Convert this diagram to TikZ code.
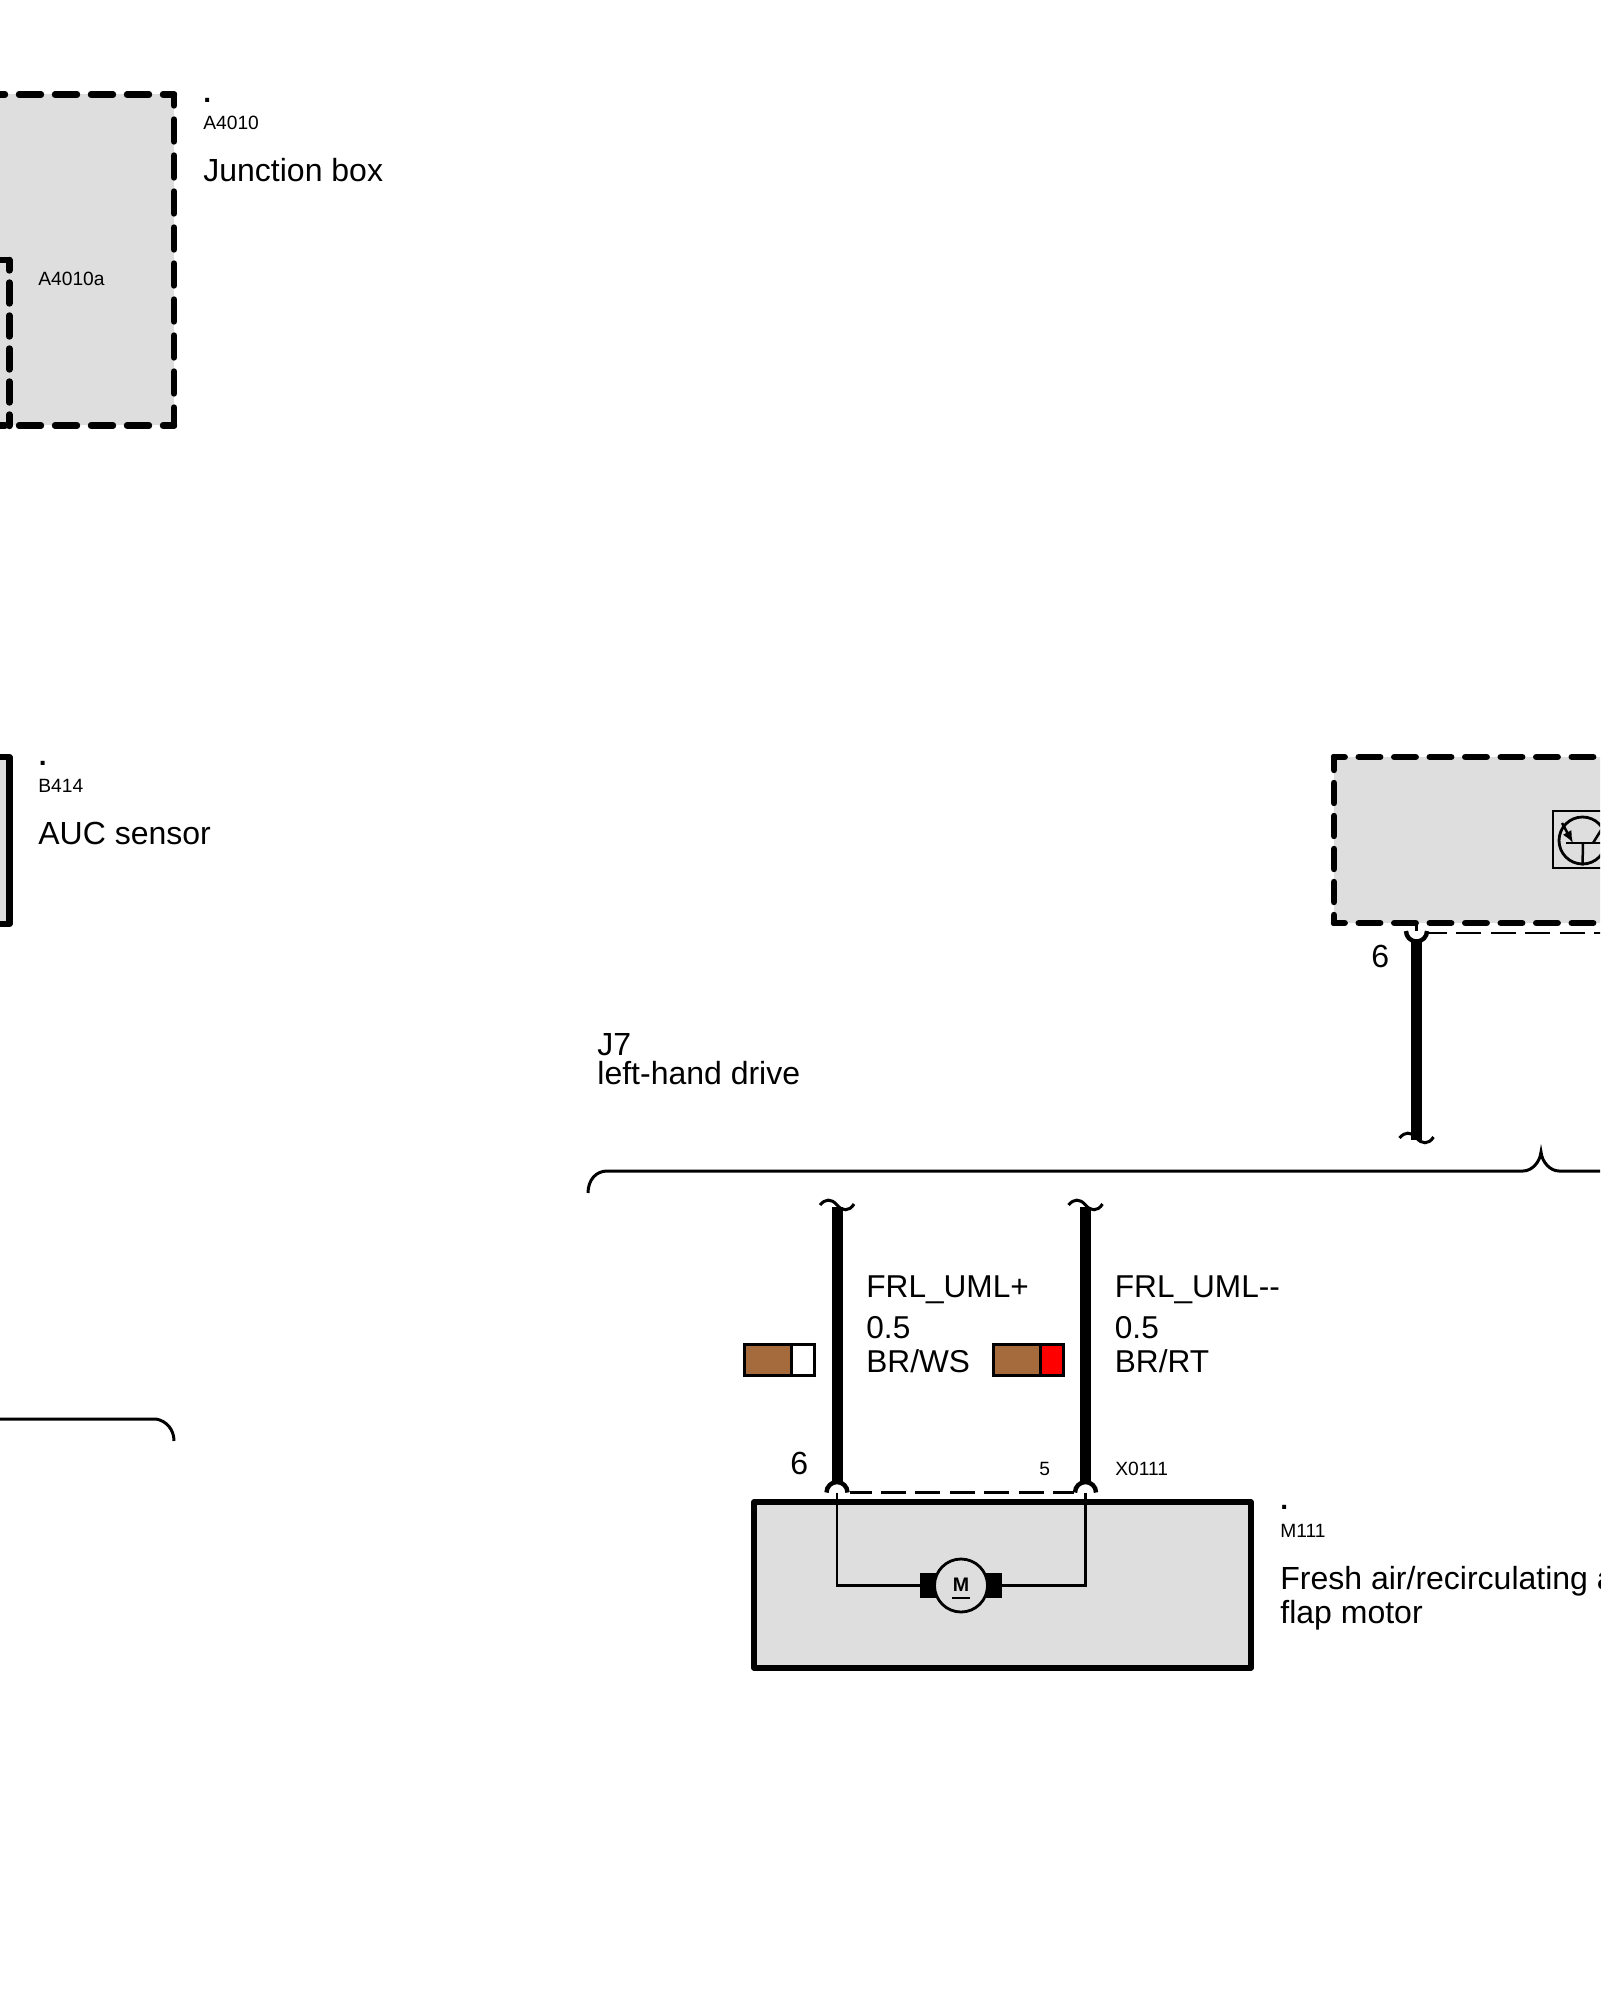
\documentclass[tikz,border=0pt]{standalone}
\usepackage{fontspec}
\setmainfont{Liberation Sans}
\usepackage{xcolor}
\usetikzlibrary{calc}
\usetikzlibrary{arrows.meta}
\definecolor{boxgrey}{HTML}{DEDEDE}
\definecolor{wirebrown}{HTML}{A56B3D}
\tikzset{
smalltext/.style={anchor=base west, inner sep=0, font=\fontsize{9.6}{11}\selectfont},
dottext/.style={anchor=base west, inner sep=0, font=\fontsize{14}{16}\bfseries\selectfont},
bigtext/.style={anchor=base west, inner sep=0, font=\fontsize{15.8}{18}\selectfont},
titletext/.style={anchor=base west, inner sep=0, font=\fontsize{16}{18}\selectfont},
thickline/.style={line width=3.2pt, line join=round},
thindash/.style={line width=1.2pt, dash pattern=on 12.5pt off 4.7pt},
thinwire/.style={line width=1.3pt},
fatwire/.style={line width=5.5pt},
squiggle/.style={line width=1.5pt},
}
% wire break, drawn round the point given
\newcommand{\wirebreak}[1]{
\draw[squiggle] ($(#1) + (-17, 0)$)
   .. controls ($(#1) + (-12, -6)$) and ($(#1) + (-6, -7)$)
   .. (#1)
   .. controls ($(#1) + (5, 6)$) and ($(#1) + (12, 7)$)
   .. ($(#1) + (17, -1)$);
}
\newcommand{\pinup}[1]{
\draw[line width=2.2pt] ($(#1) + (-10.5, 0)$) arc(180:360:10.5);
}
\newcommand{\pindown}[1]{
\draw[line width=2.2pt] ($(#1) + (-10.5, 0)$) arc(180:0:10.5);
}
% colour code of a wire
\newcommand{\colourcode}[2]{
\coordinate (code) at (#1);
\fill[wirebrown] (code) rectangle ($(code) + (47, 31)$);
\fill[#2] ($(code) + (47, 0)$) rectangle ($(code) + (70, 31)$);
\draw[line width=1.5pt] (code) rectangle ($(code) + (70, 31)$);
\draw[line width=1.5pt] ($(code) + (47, 0)$) -- ($(code) + (47, 31)$);
}

\begin{document}
\begin{tikzpicture}[x=0.5pt, y=-0.5pt]
\useasboundingbox (0, 0) rectangle (1600, 2000);
\clip (0, 0) rectangle (1600, 2000);
% junction box
\fill[boxgrey] (0, 94.5) rectangle (174, 425.5);
\draw[thickline, line cap=round, dash pattern=on 11pt off 7pt, dash phase=5.5pt] (174, 94.5) -- (-10, 94.5);
\draw[thickline, line cap=round, dash pattern=on 11pt off 7pt, dash phase=5.5pt] (174, 94.5) -- (174, 425.5);
\draw[thickline, line cap=round, dash pattern=on 11pt off 7pt, dash phase=5.5pt] (174, 425.5) -- (-10, 425.5);
\draw[thickline, line cap=round, dash pattern=on 10.5pt off 6pt, dash phase=5.25pt] (9.3, 260) -- (-10, 260);
\draw[thickline, line cap=round, dash pattern=on 10.5pt off 6pt, dash phase=5.25pt] (9.3, 260) -- (9.3, 426);
\node[dottext] (dotA) at (203, 102.5) {.};
\node[smalltext] (nameA) at (203, 130) {A4010};
\node[titletext] (titleA) at (203, 182) {Junction box};
\node[smalltext] (nameAa) at (38, 286) {A4010a};
% sensor
\draw[thickline, fill=boxgrey] (-10, 757) rectangle (9.3, 924);
\node[dottext] (dotB) at (38.6, 765) {.};
\node[smalltext] (nameB) at (38, 792.5) {B414};
\node[titletext] (titleB) at (38, 844) {AUC sensor};
% brackets
\coordinate (leftend) at (-10, 1419);
\coordinate (leftbend) at (156, 1419);
\coordinate (leftfoot) at (174, 1441);
\draw[line width=1.5pt] (leftend) -- (leftbend) .. controls (167, 1421) and (174, 1430) .. (leftfoot);
\coordinate (bracefoot) at (588, 1193);
\coordinate (bracebend) at (607, 1171);
\coordinate (bumpleft) at (1523, 1171);
\coordinate (bumptop) at (1541, 1152);
\coordinate (bumpright) at (1559, 1171);
\coordinate (braceend) at (1610, 1171);
\draw[line width=1.5pt] (bracefoot) .. controls (588, 1180) and (596, 1171) .. (bracebend) -- (bumpleft)
   .. controls (1532, 1171) and (1540, 1162) .. (bumptop)
   .. controls (1542, 1162) and (1550, 1171) .. (bumpright) -- (braceend);
\node[titletext] (jsection) at (597, 1055) {J7};
\node[titletext] (jdrive) at (597, 1084) {left-hand drive};
% control unit
\fill[boxgrey] (1334, 757) rectangle (1610, 923);
\draw[thickline, line cap=round, dash pattern=on 10.75pt off 7pt, dash phase=5.4pt] (1334, 757) -- (1610, 757);
\draw[thickline, line cap=round, dash pattern=on 10.75pt off 7pt, dash phase=5.4pt] (1334, 923) -- (1610, 923);
\draw[thickline, line cap=round, dash pattern=on 10pt off 6.5pt, dash phase=3.5pt] (1334, 757) -- (1334, 923);
\draw[line width=1.4pt] (1553, 811) rectangle (1620, 868);
\node[circle, draw, line width=1.4pt, inner sep=0, minimum size=23.5pt] (trans) at (1582.5, 840.5) {};
\coordinate (base) at (1566, 843);
\coordinate (baseend) at (1610, 843);
\coordinate (emit) at (1562, 823);
\coordinate (emitend) at (1573, 843);
\coordinate (coll) at (1593, 843);
\coordinate (collend) at (1603, 827);
\draw[line width=1.25pt] (base) -- (baseend);
\draw[line width=1.25pt] (1583, 843) -- (trans.south);
\draw[line width=1.25pt] (coll) -- (collend);
\draw[line width=1.25pt, -{Latex[length=6pt, width=5pt]}] (emit) -- (emitend);
% upper wire
\coordinate (pinC) at (1416.5, 931);
\coordinate (breakC) at (1416.5, 1138);
\draw[thinwire] (1416.5, 923) -- (pinC);
\draw[thindash, dash phase=3pt] (1428, 933) -- (1610, 933);
\pindown{pinC}
\draw[fatwire] (1416.5, 940) -- ($(breakC) + (0, 2)$);
\wirebreak{breakC}
\node[titletext] (pinsix) at (1371, 967) {6};
% motor box
\draw[line width=2.8pt, fill=boxgrey, line join=round] (754, 1502) rectangle (1251, 1668);
\coordinate (pinA) at (837, 1492.5);
\coordinate (pinB) at (1085.5, 1492.5);
\coordinate (breakA) at (837, 1205);
\coordinate (breakB) at (1085.5, 1205);
\fill (920, 1573) rectangle (1002, 1598);
\node[circle, draw, fill=boxgrey, line width=1.4pt, inner sep=0, minimum size=26.5pt] (motor) at (961, 1585.5) {};
\node[anchor=base, inner sep=0, font=\fontsize{9.8}{11}\bfseries\selectfont] (motorname) at (961, 1591) {M};
\draw[line width=1pt] ($(motorname.base west) + (0, 7)$) -- ($(motorname.base east) + (0, 7)$);
\draw[thinwire] (pinA) |- (motor.west);
\draw[thinwire] (pinB) |- (motor.east);
\draw[fatwire] ($(breakA) + (0, 2)$) -- ($(pinA) + (0, -10)$);
\draw[fatwire] ($(breakB) + (0, 2)$) -- ($(pinB) + (0, -10)$);
\wirebreak{breakA}
\wirebreak{breakB}
\pinup{pinA}
\pinup{pinB}
\draw[thindash, dash phase=1.5pt] (849.5, 1492.5) -- (1074, 1492.5);
\node[bigtext] (nameUp) at (866, 1297) {FRL\_UML+};
\node[bigtext] (sizeUp) at (866, 1338) {0.5};
\node[bigtext] (colourUp) at (866, 1372) {BR/WS};
\node[bigtext] (nameDown) at (1114.5, 1297) {FRL\_UML-{}-};
\node[bigtext] (sizeDown) at (1114.5, 1338) {0.5};
\node[bigtext] (colourDown) at (1114.5, 1372) {BR/RT};
\colourcode{744, 1344.5}{white}
\colourcode{993.5, 1344.5}{red}
\node[titletext] (pinAname) at (790, 1474) {6};
\node[smalltext] (pinBname) at (1039, 1475) {5};
\node[smalltext] (plugname) at (1115, 1475) {X0111};
\node[dottext] (dotM) at (1280, 1509) {.};
\node[smalltext] (nameM) at (1280, 1537) {M111};
\node[titletext] (titleM) at (1280, 1589) {Fresh air/recirculating a};
\node[titletext] (titleMb) at (1280, 1623) {flap motor};
\end{tikzpicture}
\end{document}
